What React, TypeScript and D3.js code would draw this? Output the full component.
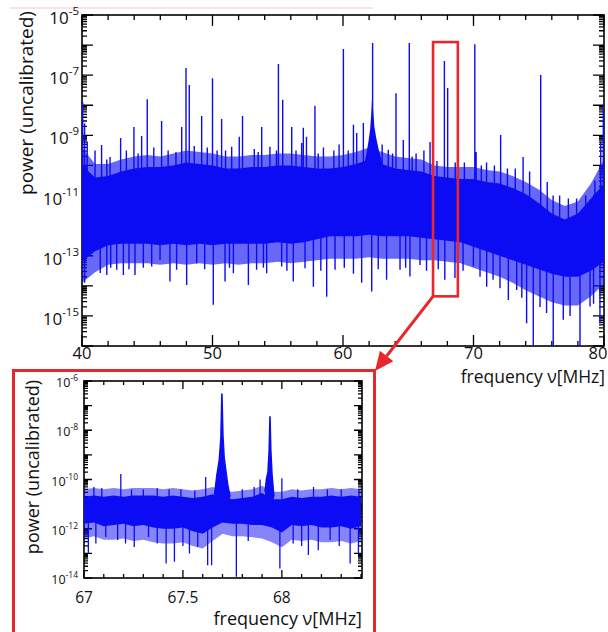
import React from "react";
import * as d3 from "d3";

const FONT = "'Open Sans', 'Noto Sans', 'DejaVu Sans', sans-serif";
const BLUE = "#0c0cf4";
const RED = "#e8262b";

// ---------- main spectrum (values are log10 of power) ----------
const mainBandFreq = [40,41,42,43,44,45,46,47,48,49,50,51,52,53,54,55,56,57,58,59,60,61,62,63,64,65,66,67,68,69,70,71,72,73,74,75,76,77,78,79,80];
const mainCoreTop = [-10.0,-10.4,-10.35,-10.2,-10.1,-10.05,-10.05,-10.0,-9.9,-9.95,-10.0,-10.1,-10.1,-10.05,-10.05,-10.0,-10.0,-10.05,-10.1,-10.1,-10.05,-9.95,-9.8,-9.95,-10.1,-10.15,-10.2,-10.35,-10.4,-10.45,-10.45,-10.55,-10.6,-10.75,-10.95,-11.25,-11.6,-11.8,-11.6,-11.1,-10.6];
const mainFringeTop = [-9.4,-9.95,-9.95,-9.8,-9.7,-9.65,-9.7,-9.6,-9.5,-9.55,-9.6,-9.7,-9.7,-9.65,-9.65,-9.6,-9.6,-9.65,-9.7,-9.7,-9.65,-9.55,-9.4,-9.55,-9.7,-9.75,-9.8,-10.0,-10.05,-10.05,-10.05,-10.15,-10.2,-10.35,-10.55,-10.8,-11.15,-11.35,-11.2,-10.6,-9.8];
const mainCoreBottom = [-13.2,-12.85,-12.65,-12.6,-12.6,-12.6,-12.65,-12.6,-12.65,-12.6,-12.65,-12.6,-12.6,-12.6,-12.6,-12.55,-12.6,-12.55,-12.45,-12.35,-12.35,-12.35,-12.3,-12.35,-12.35,-12.35,-12.4,-12.45,-12.5,-12.55,-12.7,-12.85,-13.0,-13.15,-13.3,-13.45,-13.6,-13.7,-13.7,-13.5,-13.2];
const mainFringeBottom = [-13.9,-13.55,-13.3,-13.25,-13.25,-13.25,-13.3,-13.25,-13.3,-13.25,-13.3,-13.25,-13.3,-13.25,-13.25,-13.2,-13.25,-13.2,-13.15,-13.1,-13.1,-13.1,-13.05,-13.1,-13.1,-13.1,-13.15,-13.15,-13.2,-13.25,-13.4,-13.55,-13.7,-13.9,-14.15,-14.35,-14.55,-14.65,-14.65,-14.35,-13.95];
const mainHump: [number, number][] = [[61.6,-10.0],[61.8,-9.6],[61.95,-9.2],[62.08,-8.8],[62.16,-8.3],[62.22,-7.8],[62.3,-8.1],[62.4,-8.7],[62.55,-9.1],[62.75,-9.5],[63.0,-9.9]];
const mainUpSpikes: [number, number][] = [
  [40.05,-7.9],[40.2,-8.6],[40.4,-9.2],[41.0,-9.5],[41.5,-9.32],[42.15,-9.72],[42.96,-9.09],[43.4,-9.5],[43.98,-8.72],[44.57,-9.02],
  [45.0,-7.8],[45.5,-9.4],[46.1,-8.52],[46.6,-9.5],[47.64,-8.72],[47.97,-6.76],[48.22,-7.33],[49.17,-8.36],[49.6,-9.4],[50.0,-7.1],
  [50.7,-8.46],[51.0,-9.5],[51.47,-9.38],[52.05,-9.05],[52.3,-8.36],[53.2,-9.45],[53.77,-8.72],[54.4,-9.38],[54.9,-9.5],[55.05,-6.63],
  [55.38,-7.82],[56.07,-8.72],[56.83,-9.25],[56.96,-8.75],[57.2,-9.05],[57.85,-8.02],[58.5,-9.4],[59.3,-9.5],[59.7,-9.3],[60.03,-6.13],
  [60.8,-8.65],[61.05,-8.92],[61.56,-8.59],[62.27,-5.93],[63.0,-9.3],[63.47,-9.48],[64.06,-7.6],[64.62,-9.15],[65.08,-5.93],[65.6,-9.6],
  [66.2,-9.5],[66.67,-9.22],[67.77,-6.53],[68.02,-7.43],[69.3,-9.9],[70.1,-5.97],[70.2,-9.55],[71.0,-9.9],[71.6,-10.0],[72.08,-8.99],
  [73.8,-9.72],[74.3,-10.2],[75.15,-6.99],[75.65,-10.55],[76.6,-11.0],[77.27,-11.1],[77.9,-11.1],[78.6,-11.0],[79.3,-10.5],[79.75,-9.2],[79.95,-8.0],
  [41.9,-9.8],[44.3,-9.6],[47.2,-9.55],[48.6,-9.35],[50.35,-9.5],[53.5,-9.55],[56.4,-9.5],[58.1,-9.6],[60.4,-9.5],[63.8,-9.6],[65.3,-9.7],[67.2,-9.85],[68.6,-9.9],[70.6,-10.0],[72.6,-10.1],[73.2,-10.1],[76.1,-11.0]
];
const mainDownSpikes: [number, number][] = [
  [40.2,-13.9],[41.4,-13.57],[41.9,-13.64],[42.66,-13.47],[43.17,-13.64],[44.06,-13.64],[45.34,-13.36],[45.98,-13.14],[46.74,-13.86],[47.25,-13.47],
  [48.02,-13.97],[48.79,-13.25],[50.06,-14.63],[50.96,-13.86],[51.6,-13.58],[52.75,-13.97],[53.38,-13.47],[54.15,-13.58],[55.3,-13.36],[56.19,-13.86],
  [57.09,-13.42],[57.73,-14.03],[58.75,-14.36],[59.39,-13.47],[61.43,-13.9],[62.2,-14.19],[63.34,-13.8],[64.37,-13.47],[65.13,-13.69],[65.9,-13.31],
  [67.8,-13.8],[68.58,-13.74],[69.99,-13.36],[71.01,-14.03],[72.03,-14.08],[72.67,-14.47],[73.31,-14.14],[74.07,-15.24],[74.58,-16.0],[75.6,-14.9],
  [76.11,-16.0],[76.88,-15.13],[78.16,-16.0],[78.93,-14.69],[79.69,-15.24],
  [42.2,-13.4],[43.6,-13.45],[44.7,-13.4],[49.4,-13.45],[51.3,-13.4],[53.9,-13.4],[55.7,-13.5],[58.3,-13.5],[60.1,-13.4],[60.8,-13.6],[62.7,-13.45],[64.8,-13.4],[66.4,-13.5],[67.3,-13.45],[69.2,-13.5],[70.5,-13.7],[71.5,-13.8],[73.7,-14.4],[75.1,-14.7],[77.4,-15.0],[79.2,-14.6]
];
const mainXMajor = [40, 50, 60, 70, 80];
const mainYLabelExp = [-5, -7, -9, -11, -13, -15];
const zoomWindowFreq = [66.9, 68.8];
const zoomWindowPow = [-5.9, -14.35];

// ---------- inset (67 - 68.4 MHz) ----------
const insetBandFreq = [67.0,67.05,67.1,67.15,67.2,67.25,67.3,67.35,67.4,67.45,67.5,67.55,67.6,67.65,67.7,67.75,67.8,67.85,67.9,67.95,68.0,68.05,68.1,68.15,68.2,68.25,68.3,68.35,68.4];
const insetCoreTop = [-10.7,-10.65,-10.7,-10.65,-10.7,-10.65,-10.65,-10.65,-10.7,-10.65,-10.7,-10.75,-10.7,-10.6,-10.75,-10.8,-10.75,-10.7,-10.55,-10.8,-10.8,-10.7,-10.75,-10.7,-10.7,-10.65,-10.7,-10.65,-10.7];
const insetCoreBottom = [-11.8,-11.75,-11.9,-11.85,-11.8,-11.9,-11.85,-11.95,-12.0,-12.0,-11.95,-12.1,-12.2,-11.95,-11.75,-11.8,-11.8,-11.85,-11.85,-11.95,-12.15,-11.85,-11.9,-11.85,-11.95,-11.95,-11.9,-12.0,-11.9];
const insetFringeTop = [-10.4,-10.35,-10.4,-10.35,-10.4,-10.35,-10.35,-10.35,-10.4,-10.35,-10.4,-10.45,-10.4,-10.3,-10.45,-10.5,-10.45,-10.4,-10.25,-10.5,-10.5,-10.4,-10.45,-10.4,-10.4,-10.35,-10.4,-10.35,-10.4];
const insetFringeBottom = [-12.4,-12.3,-12.45,-12.45,-12.4,-12.5,-12.45,-12.55,-12.6,-12.6,-12.55,-12.7,-12.8,-12.5,-12.2,-12.3,-12.3,-12.35,-12.4,-12.55,-12.75,-12.45,-12.5,-12.45,-12.55,-12.55,-12.5,-12.6,-12.5];
const insetPeak1: [number, number][] = [[67.66,-10.6],[67.672,-9.8],[67.684,-9.2],[67.692,-8.3],[67.697,-6.53],[67.702,-8.2],[67.708,-9.1],[67.716,-9.6],[67.726,-10.2],[67.738,-10.7]];
const insetPeak2: [number, number][] = [[67.915,-10.5],[67.922,-10.0],[67.93,-9.7],[67.936,-8.8],[67.94,-7.45],[67.944,-8.8],[67.95,-9.8],[67.96,-10.7]];
const insetUpSpikes: [number, number][] = [[67.05,-10.3],[67.09,-10.35],[67.186,-9.78],[67.24,-10.4],[67.3,-10.41],[67.37,-10.35],[67.43,-10.4],[67.49,-10.4],[67.56,-10.45],[67.615,-9.9],[67.8,-10.4],[67.86,-10.3],[67.89,-10.0],[68.0,-9.95],[68.08,-10.4],[68.16,-10.3],[68.23,-10.4],[68.3,-10.4],[68.39,-10.4]];
const insetDownSpikes: [number, number][] = [[67.022,-13.0],[67.06,-12.6],[67.11,-12.33],[67.17,-12.46],[67.21,-12.6],[67.254,-12.74],[67.326,-12.33],[67.37,-12.6],[67.415,-13.41],[67.457,-13.34],[67.5,-12.7],[67.533,-13.0],[67.575,-12.74],[67.625,-13.48],[67.645,-13.48],[67.77,-13.95],[67.83,-12.5],[67.99,-13.61],[68.057,-12.6],[68.1,-12.7],[68.134,-13.07],[68.184,-12.87],[68.244,-12.46],[68.29,-12.7],[68.345,-13.41],[68.387,-13.0]];
const insetXMajor = [67, 67.5, 68];
const insetYLabelExp = [-6, -8, -10, -12, -14];

const p10 = (e: number) => Math.pow(10, e);

type Lin = d3.ScaleLinear<number, number>;
type Log = d3.ScaleLogarithmic<number, number>;

function Frame({ xs, ys, xMajor, xMinorCount, majLen, minLen, clipId }: { xs: Lin; ys: Log; xMajor: number[]; xMinorCount: number; majLen: number; minLen: number; clipId: string }) {
  const [x0, x1] = xs.range();
  const [yb, yt] = ys.range();
  const [d0, d1] = ys.domain();
  const e0 = Math.round(Math.log10(d0));
  const e1 = Math.round(Math.log10(d1));
  const yTicks: { v: number; major: boolean }[] = [];
  for (let e = e0; e < e1; e++) for (let k = 1; k <= 9; k++) yTicks.push({ v: k * p10(e), major: k === 1 });
  yTicks.push({ v: p10(e1), major: true });
  const xMinor = xs.ticks(xMinorCount).filter((t) => !xMajor.some((m) => Math.abs(m - t) < 1e-6));
  const segs: string[] = [];
  xMajor.forEach((t) => { const X = xs(t); segs.push(`M${X},${yb}V${yb - majLen}M${X},${yt}V${yt + majLen}`); });
  xMinor.forEach((t) => { const X = xs(t); segs.push(`M${X},${yb}V${yb - minLen}M${X},${yt}V${yt + minLen}`); });
  yTicks.forEach(({ v, major }) => { const Y = ys(v); const l = major ? majLen : minLen; segs.push(`M${x0},${Y}H${x0 + l}M${x1},${Y}H${x1 - l}`); });
  return (
    <g>
      <defs>
        <clipPath id={clipId}><rect x={x0} y={yt} width={x1 - x0} height={yb - yt} /></clipPath>
      </defs>
      <path d={segs.join("")} stroke="#000" strokeWidth={1.3} fill="none" />
      <rect x={x0} y={yt} width={x1 - x0} height={yb - yt} fill="none" stroke="#000" strokeWidth={1.6} />
    </g>
  );
}

function Spectrum({ xs, ys, freq, coreTop, coreBottom, fringeTop, fringeBottom, up, down, spikeW, fringeOpacity }: { xs: Lin; ys: Log; freq: number[]; coreTop: number[]; coreBottom: number[]; fringeTop: number[]; fringeBottom: number[]; up: [number, number][]; down: [number, number][]; spikeW: number; fringeOpacity: number }) {
  const area = (top: number[], bot: number[]) =>
    d3.area<number>().x((d) => xs(d)).y0((_, i) => ys(p10(bot[i]))).y1((_, i) => ys(p10(top[i])))(freq) || "";
  const mid = d3.scaleLinear().domain(freq).range(freq.map((_, i) => (coreTop[i] + coreBottom[i]) / 2)).clamp(true);
  const spikePath = [...up, ...down].map(([f, v]) => `M${xs(f)},${ys(p10(mid(f)))}V${ys(p10(v))}`).join("");
  return (
    <g>
      <path d={area(fringeTop, fringeBottom)} fill={BLUE} fillOpacity={fringeOpacity} />
      <path d={area(coreTop, coreBottom)} fill={BLUE} />
      <path d={spikePath} stroke={BLUE} strokeWidth={spikeW} fill="none" />
    </g>
  );
}

function Peak({ xs, ys, pts, base }: { xs: Lin; ys: Log; pts: [number, number][]; base: number }) {
  const a = d3.area<[number, number]>().x((d) => xs(d[0])).y0(ys(p10(base))).y1((d) => ys(p10(d[1])))(pts) || "";
  const l = d3.line<[number, number]>().x((d) => xs(d[0])).y((d) => ys(p10(d[1])))(pts) || "";
  return (
    <g>
      <path d={a} fill={BLUE} />
      <path d={l} fill="none" stroke={BLUE} strokeWidth={1.6} strokeLinejoin="round" />
    </g>
  );
}

export default function App() {
  // main chart scales
  const x = d3.scaleLinear().domain([40, 80]).range([82, 604]);
  const y = d3.scaleLog().domain([1e-16, 1e-5]).range([346, 15]);
  // inset scales
  const ix = d3.scaleLinear().domain([67, 68.405]).range([84, 362]);
  const iy = d3.scaleLog().domain([1e-14, 1e-6]).range([578, 381]);

  const bx0 = x(zoomWindowFreq[0]);
  const bx1 = x(zoomWindowFreq[1]);
  const by0 = y(p10(zoomWindowPow[0]));
  const by1 = y(p10(zoomWindowPow[1]));

  // arrow from box corner to inset frame corner
  const ax0 = bx0, ay0 = by1;
  const ax1 = 375, ay1 = 371;
  const ang = Math.atan2(ay1 - ay0, ax1 - ax0);
  const hl = 19, hw = 8.5;
  const bxp = ax1 - hl * Math.cos(ang), byp = ay1 - hl * Math.sin(ang);
  const head = `M${ax1},${ay1}L${bxp + hw * Math.sin(ang)},${byp - hw * Math.cos(ang)}L${bxp - hw * Math.sin(ang)},${byp + hw * Math.cos(ang)}Z`;

  const humpArea = d3.area<[number, number]>().x((d) => x(d[0])).y0(y(p10(-10.6))).y1((d) => y(p10(d[1])))(mainHump) || "";

  return (
    <svg width={608} height={632} style={{ position: "absolute", left: 0, top: 0, background: "#fff" }} fontFamily={FONT}>
      <rect x={0} y={0} width={608} height={632} fill="#fff" />
      <line x1={10} x2={373} y1={8} y2={8} stroke="#f6c9cc" strokeWidth={1.2} />

      {/* ---------- main chart ---------- */}
      <Frame xs={x} ys={y} xMajor={mainXMajor} xMinorCount={20} majLen={11} minLen={5} clipId="clipMain" />
      <g clipPath="url(#clipMain)">
        <Spectrum xs={x} ys={y} freq={mainBandFreq} coreTop={mainCoreTop} coreBottom={mainCoreBottom} fringeTop={mainFringeTop} fringeBottom={mainFringeBottom} up={mainUpSpikes} down={mainDownSpikes} spikeW={1.4} fringeOpacity={0.62} />
        <path d={humpArea} fill={BLUE} />
      </g>
      {mainXMajor.map((t) => (
        <text key={t} x={Math.min(x(t), 598)} y={359} fontSize={16.5} textAnchor="middle" fill="#111">{t}</text>
      ))}
      {mainYLabelExp.map((e) => (
        <text key={e} x={79} y={y(p10(e)) + 9} fontSize={17} textAnchor="end" fill="#111">
          <tspan>10</tspan>
          <tspan dy={-9} fontSize={11.5}>{e}</tspan>
        </text>
      ))}
      <text transform={`translate(33,103) rotate(-90)`} fontSize={19} textAnchor="middle" fill="#111">power (uncalibrated)</text>
      <text x={605} y={383} fontSize={17.5} textAnchor="end" fill="#111">frequency ν[MHz]</text>

      {/* zoom window + arrow */}
      <rect x={bx0} y={by0} width={bx1 - bx0} height={by1 - by0} fill="none" stroke={RED} strokeWidth={2.6} />
      <line x1={ax0} y1={ay0} x2={bxp} y2={byp} stroke={RED} strokeWidth={3} />
      <path d={head} fill={RED} />

      {/* ---------- inset ---------- */}
      <rect x={13.5} y={370.5} width={361} height={290} fill="none" stroke={RED} strokeWidth={3} />
      <Frame xs={ix} ys={iy} xMajor={insetXMajor} xMinorCount={14} majLen={8} minLen={4} clipId="clipInset" />
      <g clipPath="url(#clipInset)">
        <Spectrum xs={ix} ys={iy} freq={insetBandFreq} coreTop={insetCoreTop} coreBottom={insetCoreBottom} fringeTop={insetFringeTop} fringeBottom={insetFringeBottom} up={insetUpSpikes} down={insetDownSpikes} spikeW={1.3} fringeOpacity={0.5} />
        <Peak xs={ix} ys={iy} pts={insetPeak1} base={-11.2} />
        <Peak xs={ix} ys={iy} pts={insetPeak2} base={-11.2} />
      </g>
      {insetXMajor.map((t) => (
        <text key={t} x={ix(t)} y={603} fontSize={15.5} textAnchor="middle" fill="#111">{t}</text>
      ))}
      {insetYLabelExp.map((e) => (
        <text key={e} x={78} y={iy(p10(e)) + 6} fontSize={12.5} textAnchor="end" fill="#111">
          <tspan>10</tspan>
          <tspan dy={-6} fontSize={8.5}>{e}</tspan>
        </text>
      ))}
      <text transform={`translate(39,467) rotate(-90)`} fontSize={18} textAnchor="middle" fill="#111">power (uncalibrated)</text>
      <text x={362} y={625} fontSize={18} textAnchor="end" fill="#111">frequency ν[MHz]</text>
    </svg>
  );
}
